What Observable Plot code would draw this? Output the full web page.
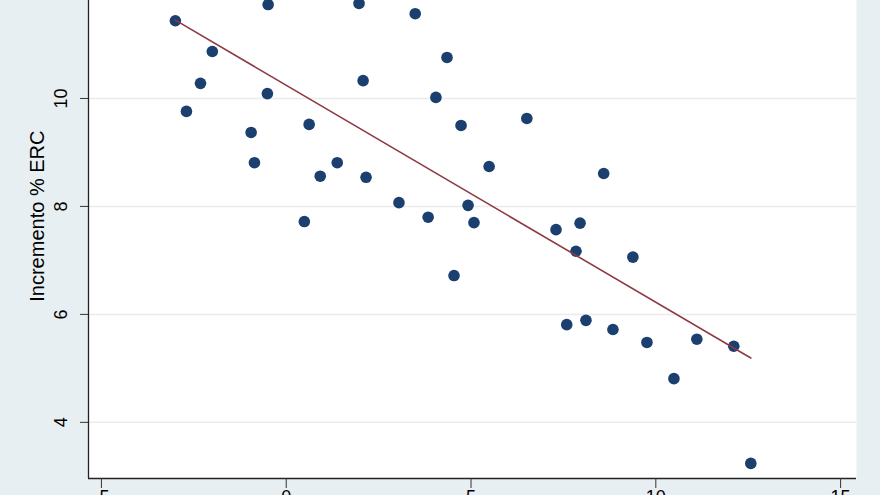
<!DOCTYPE html>
<html><head><meta charset="utf-8">
<script src="https://cdn.jsdelivr.net/npm/d3@7"></script>
<script src="https://cdn.jsdelivr.net/npm/@observablehq/plot@0.6"></script>
<style>html,body{margin:0;padding:0;background:#e8eff2;overflow:hidden;width:880px;height:495px}</style>
</head><body><div id="chart"></div>
<script>
const xValues = [-3.0, -2.70, -2.32, -2.0, -0.95, -0.86, -0.49, -0.51, 0.49, 0.62, 0.92, 1.38, 1.97, 2.08, 2.16, 3.05, 3.49, 3.84, 4.05, 4.35, 4.54, 4.73, 4.92, 5.08, 5.49, 6.51, 7.30, 7.59, 7.84, 7.95, 8.11, 8.59, 8.84, 9.38, 9.76, 10.49, 11.11, 12.11, 12.57];
const yValues = [11.44, 9.76, 10.28, 10.87, 9.37, 8.81, 11.74, 10.09, 7.72, 9.52, 8.56, 8.81, 11.76, 10.33, 8.54, 8.07, 11.57, 7.80, 10.02, 10.76, 6.72, 9.50, 8.02, 7.70, 8.74, 9.63, 7.57, 5.81, 7.17, 7.69, 5.89, 8.61, 5.72, 7.06, 5.48, 4.81, 5.54, 5.41, 3.24];
const xTicks = [-5, 0, 5, 10, 15];
const yTicks = [4, 6, 8, 10, 12];
const yTitle = "Incremento % ERC";
// fitted line: y = fitIntercept + fitSlope * x
const fitIntercept = 10.245;
const fitSlope = -0.402;

const data = xValues.map((x, i) => ({x, y: yValues[i]}));
const xExtent = d3.extent(xValues);
const fit = xExtent.map(x => ({x, y: fitIntercept + fitSlope * x}));
const font = "'Liberation Sans', Arial, sans-serif";

const chart = Plot.plot({
  width: 880, height: 495,
  marginLeft: 88, marginRight: 24, marginTop: -10, marginBottom: 17,
  style: {background: "#e8eff2", fontFamily: font, color: "#000", overflow: "hidden"},
  x: {domain: [-5.35, 15.43], axis: null},
  y: {domain: [2.96, 12], axis: null},
  marks: [
    Plot.frame({fill: "white", stroke: null}),
    Plot.ruleY(yTicks, {stroke: "#ebebeb", strokeWidth: 1.5}),
    Plot.ruleX([-5.35], {stroke: "#222", strokeWidth: 1.3}),
    Plot.ruleY([2.96], {stroke: "#222", strokeWidth: 1.3}),
    Plot.axisY({ticks: yTicks, tickSize: 8, tickFormat: () => "", stroke: "#333", label: null}),
    Plot.text(yTicks, {y: d => d, text: d => String(d), frameAnchor: "left", textAnchor: "middle", dx: -27, rotate: -90, fontSize: 18, fill: "#000"}),
    Plot.text([yTitle], {text: d => d, frameAnchor: "left", textAnchor: "middle", dx: -51, rotate: -90, fontSize: 20, fill: "#000", y: () => 7.82}),
    Plot.axisX({ticks: xTicks, tickSize: 10, tickPadding: 2, fontSize: 18, stroke: "#333", tickFormat: d => String(d), label: null}),
    Plot.dot(data, {x: "x", y: "y", r: 5.8, fill: "#1b3f6e", stroke: null}),
    Plot.line(fit, {x: "x", y: "y", stroke: "#8e3a44", strokeWidth: 1.6})
  ]
});
document.getElementById("chart").appendChild(chart);
</script>
</body></html>
